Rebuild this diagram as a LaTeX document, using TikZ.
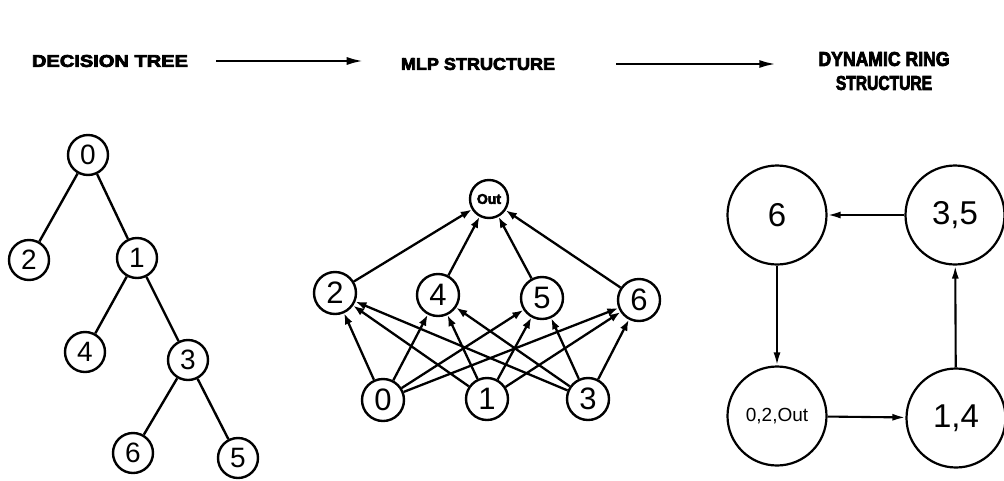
\documentclass[tikz,border=0pt]{standalone}
\usepackage{fontspec}
\setmainfont{Liberation Sans}
\newfontfamily\hdrfont{Liberation Sans Bold}[FakeBold=4]
\usetikzlibrary{arrows.meta}
\begin{document}
\begin{tikzpicture}[x=1pt,y=-1pt,
  every node/.style={inner sep=0pt},
  tnode/.style={circle,draw,line width=2.4pt,minimum size=40pt,font=\fontsize{28}{28}\selectfont},
  mnode/.style={circle,draw,line width=2.4pt,minimum size=42pt,font=\fontsize{31}{31}\selectfont},
  onode/.style={circle,draw,line width=2.4pt,minimum size=38pt,font=\hdrfont\fontsize{14}{14}\selectfont},
  rnode/.style={circle,draw,line width=2.2pt,minimum size=99pt,font=\fontsize{33}{33}\selectfont},
  hdr/.style={font=\hdrfont\fontsize{17}{20}\selectfont},
  edge/.style={line width=2.4pt},
  arr/.style={line width=2.3pt,-{Latex[length=11pt,width=8pt]}},
  ringarr/.style={line width=2.1pt,-{Latex[length=13pt,width=7pt]}},
  harr/.style={line width=2.6pt,-{Latex[length=17pt,width=8pt]}}]
\useasboundingbox (0,0) rectangle (1004,480);

% headers
\node[hdr] (dt) at (110,61) {\scalebox{1.18}[1]{DECISION TREE}};
\node[hdr] (mlp) at (478,64) {\scalebox{1.06}[1]{MLP STRUCTURE}};
\node[font=\hdrfont\fontsize{20}{24}\selectfont,align=center] (drs) at (884,71)
  {\scalebox{0.88}[1]{DYNAMIC RING}\\\scalebox{0.78}[1]{STRUCTURE}};
\draw[harr,shorten <=28pt,shorten >=37pt] (dt.east) -- (dt.east -| mlp.west);
\draw[harr,shorten <=61pt,shorten >=42pt] (mlp.east) -- (mlp.east -| drs.west);

% decision tree
\node[tnode] (t0) at (88,155) {0};
\node[tnode] (t2) at (29,260) {2};
\node[tnode] (t1) at (137,258) {1};
\node[tnode] (t4) at (85,352) {4};
\node[tnode] (t3) at (188,360) {3};
\node[tnode] (t6) at (133,453) {6};
\node[tnode] (t5) at (238,458) {5};
\draw[edge] (t0) -- (t2);
\draw[edge] (t0) -- (t1);
\draw[edge] (t1) -- (t4);
\draw[edge] (t1) -- (t3);
\draw[edge] (t3) -- (t6);
\draw[edge] (t3) -- (t5);

% MLP
\node[onode] (out) at (489,199) {Out};
\node[mnode] (m2) at (335,293) {2};
\node[mnode] (m4) at (438,295) {4};
\node[mnode] (m5) at (542,298) {5};
\node[mnode] (m6) at (639,300) {6};
\node[mnode] (m0) at (383,400) {0};
\node[mnode] (m1) at (487,399) {1};
\node[mnode] (m3) at (588,399) {3};
\foreach \b in {m0,m1,m3}
  \foreach \t in {m2,m4,m5,m6}
    \draw[arr] (\b) -- (\t);
\foreach \t in {m2,m4,m5,m6}
  \draw[arr] (\t) -- (out);

% dynamic ring
\node[rnode] (r6) at (777,215) {6};
\node[rnode] (r35) at (955,215) {3,5};
\node[rnode,font=\fontsize{19}{19}\selectfont] (r02) at (777,416) {0,2,Out};
\node[rnode] (r14) at (956,418) {1,4};
\draw[ringarr] (r35) -- (r6);
\draw[ringarr] (r6) -- (r02);
\draw[ringarr] (r02) -- (r14);
\draw[ringarr] (r14) -- (r35);
\end{tikzpicture}
\end{document}
